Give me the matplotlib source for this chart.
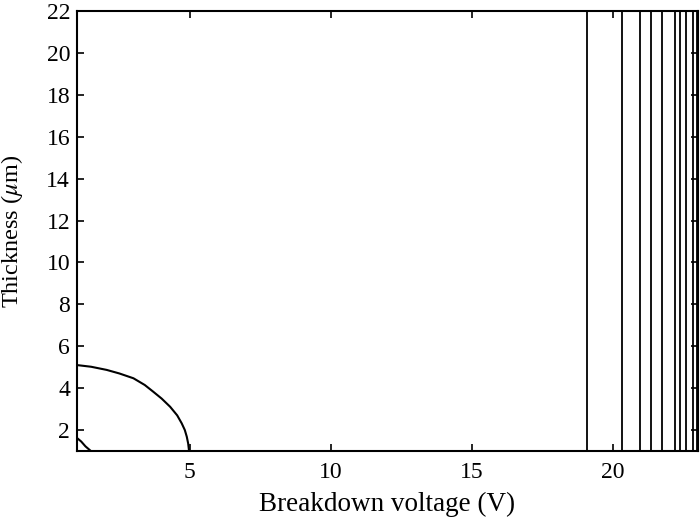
import matplotlib
matplotlib.use("Agg")
import matplotlib.pyplot as plt

plt.rcParams['font.family'] = ['Liberation Serif', 'DejaVu Serif']
plt.rcParams['mathtext.fontset'] = 'stix'

# vertical contour lines (breakdown voltage positions)
vlines_x = [19.07, 20.32, 20.96, 21.35, 21.73, 22.18, 22.38, 22.59, 22.83, 22.97]

# outer curved contour
curve1_x = [1.0, 1.5, 2.05, 2.5, 3.0, 3.4, 3.70, 4.0, 4.30, 4.55, 4.71, 4.82, 4.89, 4.94, 4.97]
curve1_y = [5.10, 5.02, 4.87, 4.70, 4.47, 4.15, 3.83, 3.50, 3.11, 2.70, 2.32, 2.00, 1.68, 1.35, 1.0]

# inner small contour
curve2_x = [1.0, 1.15, 1.30, 1.49]
curve2_y = [1.62, 1.45, 1.22, 1.0]

xticks = [5, 10, 15, 20]
yticks = [2, 4, 6, 8, 10, 12, 14, 16, 18, 20, 22]

fig = plt.figure(figsize=(7.0, 5.21), dpi=100)
ax = fig.add_axes([0.110, 0.1344, 0.887, 0.8445])

for xv in vlines_x:
    ax.axvline(xv, color='black', lw=1.3)
ax.plot(curve1_x, curve1_y, color='black', lw=1.5)
ax.plot(curve2_x, curve2_y, color='black', lw=1.5)

ax.set_xlim(1, 23)
ax.set_ylim(1, 22)
ax.set_xticks(xticks)
ax.set_yticks(yticks)
ax.tick_params(direction='in', top=True, right=True, length=5, width=1.2, labelsize=17)
ax.tick_params(axis='x', pad=7.8)
ax.tick_params(axis='y', pad=5)
for s in ax.spines.values():
    s.set_linewidth(1.5)
ax.set_xlabel('Breakdown voltage (V)', fontsize=19.5)
ax.set_ylabel(r'Thickness ($\mu$m)', fontsize=17.5)
ax.xaxis.set_label_coords(0.5, -0.093)
ax.yaxis.set_label_coords(-0.0837, 0.5)

fig.savefig('out.png', dpi=100)
